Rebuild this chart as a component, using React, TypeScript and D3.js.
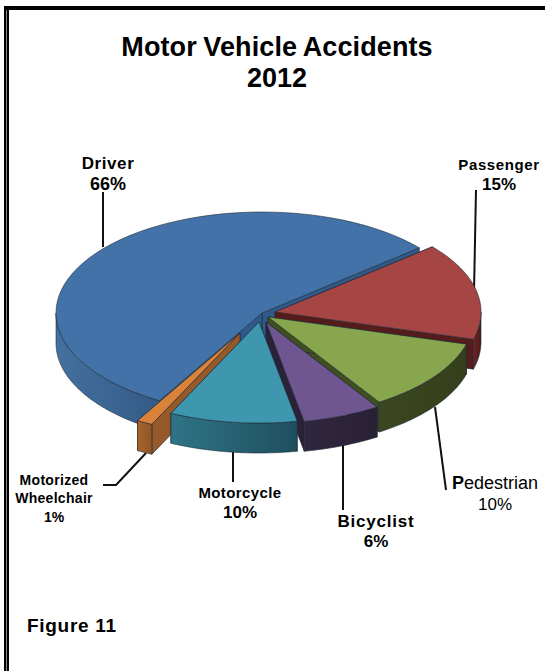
import React from 'react';
import * as d3 from 'd3';

// clockwise from the driver/passenger gap, as the slices are drawn in the picture
const categories = ['Passenger', 'Pedestrian', 'Bicyclist', 'Motorcycle', 'Motorized Wheelchair', 'Driver'];
const drawnShares = [15.5, 11.6, 6.1, 10, 1.25, 55.55];
const labelPercents = [15, 10, 6, 10, 1, 66];

const topColors = ['#A64644', '#88A64E', '#6F5690', '#3F97AF', '#D9823A', '#4272A8'];
const sideLight = ['#6b2523', '#3b4720', '#30263f', '#2f7486', '#A8662C', '#44719F'];
const sideDark = ['#4e1a19', '#353f1c', '#2a2036', '#1f4f5e', '#8f5524', '#335a87'];
const wallColors = ['#561c1b', '#3f4f20', '#2c2238', '#24596a', '#95592a', '#2f5a8a'];
// apex of each slice after the explode
const apexes: [number, number][] = [[275, 312], [268, 317], [266, 322], [259, 322], [240, 333], [262, 313]];
const drawOrder = [5, 0, 1, 2, 4, 3];

const RX = 206;
const RY = 101;
const DEPTH = 30;
const START = (49.8 * Math.PI) / 180;

const font = '"Liberation Sans", Arial, sans-serif';

const pie = d3
  .pie<number>()
  .sort(null)
  .value((d) => d)
  .startAngle(START)
  .endAngle(START + 2 * Math.PI);

const point = (apex: [number, number], a: number, dy = 0): [number, number] => [
  apex[0] + RX * Math.sin(a),
  apex[1] - RY * Math.cos(a) + dy,
];

const linePath = d3.line();

function topPath(apex: [number, number], a0: number, a1: number) {
  const pts = d3.range(0, 61).map((i) => point(apex, a0 + ((a1 - a0) * i) / 60));
  return linePath([apex, ...pts])! + 'Z';
}

// outer rim, only the part that faces the viewer
function rimPath(apex: [number, number], a0: number, a1: number) {
  const from = Math.max(a0, Math.PI / 2);
  const to = Math.min(a1, (3 * Math.PI) / 2);
  if (to <= from) return null;
  const pts = d3.range(0, 61).map((i) => point(apex, from + ((to - from) * i) / 60));
  const low = pts.map(([x, y]) => [x, y + DEPTH] as [number, number]).reverse();
  return linePath([...pts, ...low])! + 'Z';
}

function wallPath(apex: [number, number], a: number) {
  const p = point(apex, a);
  return linePath([apex, p, [p[0], p[1] + DEPTH], [apex[0], apex[1] + DEPTH]])! + 'Z';
}

type Label = { name: string[]; pct: number; x: number; ys: number[]; size: number; pctSize: number; spacing?: number };

const labels: Label[] = [
  { name: ['Driver'], pct: labelPercents[5], x: 108, ys: [169, 190], size: 17, pctSize: 18, spacing: 0.6 },
  { name: ['Passenger'], pct: labelPercents[0], x: 499, ys: [170, 190], size: 15, pctSize: 17, spacing: 0.6 },
  { name: ['Bicyclist'], pct: labelPercents[2], x: 376, ys: [527, 547], size: 17, pctSize: 17, spacing: 0.8 },
  { name: ['Motorcycle'], pct: labelPercents[3], x: 240, ys: [498, 518], size: 15, pctSize: 17, spacing: 0.4 },
  { name: ['Motorized', 'Wheelchair'], pct: labelPercents[4], x: 54, ys: [485, 503, 522], size: 14, pctSize: 14, spacing: 0.3 },
];

const leaders = [
  'M103,192V247',
  'M476,190L474,292',
  'M435,407L446,490',
  'M343,445V510',
  'M233,452V482',
  'M146,453L116,485H103',
];

export default function App() {
  const arcs = pie(drawnShares);
  return (
    <svg width={545} height={671} style={{ position: 'absolute', left: 0, top: 0, display: 'block', background: '#fff' }}>
      <defs>
        {categories.map((c, i) => (
          <linearGradient key={c} id={`side${i}`} x1="0" x2="1" y1="0" y2="0">
            <stop offset="0%" stopColor={sideLight[i]} />
            <stop offset="100%" stopColor={sideDark[i]} />
          </linearGradient>
        ))}
      </defs>

      {/* page frame */}
      <rect x={4} y={6} width={2} height={665} fill="#000" />
      <rect x={6} y={6} width={1} height={665} fill="#888" />
      <rect x={7} y={6} width={2} height={665} fill="#000" />
      <rect x={4} y={6} width={541} height={4} fill="#000" />

      <g fontFamily={font} fontWeight="bold" fill="#000" textAnchor="middle" fontSize={27}>
        <text x={277} y={56} wordSpacing={-1} letterSpacing={0.1}>Motor Vehicle Accidents</text>
        <text x={277} y={87}>2012</text>
      </g>

      <g fill="none" stroke="#111" strokeWidth={2}>
        {leaders.map((d) => <path key={d} d={d} />)}
      </g>

      {drawOrder.map((i) => {
        const { startAngle: a0, endAngle: a1 } = arcs[i];
        const apex = apexes[i];
        const rim = rimPath(apex, a0, a1);
        return (
          <g key={categories[i]} stroke="#1c2a38" strokeWidth={0.6} strokeLinejoin="round">
            <path d={wallPath(apex, a1)} fill={wallColors[i]} />
            <path d={wallPath(apex, a0)} fill={wallColors[i]} />
            {rim && <path d={rim} fill={`url(#side${i})`} />}
            <path d={topPath(apex, a0, a1)} fill={topColors[i]} />
          </g>
        );
      })}

      <g fontFamily={font} fontWeight="bold" fill="#000" textAnchor="middle">
        {labels.map((l) => (
          <g key={l.name[0]}>
            {l.name.map((t, k) => (
              <text key={t} x={l.x} y={l.ys[k]} fontSize={l.size} letterSpacing={l.spacing}>{t}</text>
            ))}
            <text x={l.x} y={l.ys[l.name.length]} fontSize={l.pctSize}>{l.pct}%</text>
          </g>
        ))}
      </g>

      <g fontFamily={font} fill="#000">
        <text x={452} y={489} fontSize={18}>
          <tspan fontWeight="bold">P</tspan>edestrian
        </text>
        <text x={495} y={510} textAnchor="middle" fontSize={17}>{labelPercents[1]}%</text>
      </g>

      <text x={27} y={632} fontFamily={font} fontSize={19} letterSpacing={0.7} fontWeight="bold" fill="#000">Figure 11</text>
    </svg>
  );
}
